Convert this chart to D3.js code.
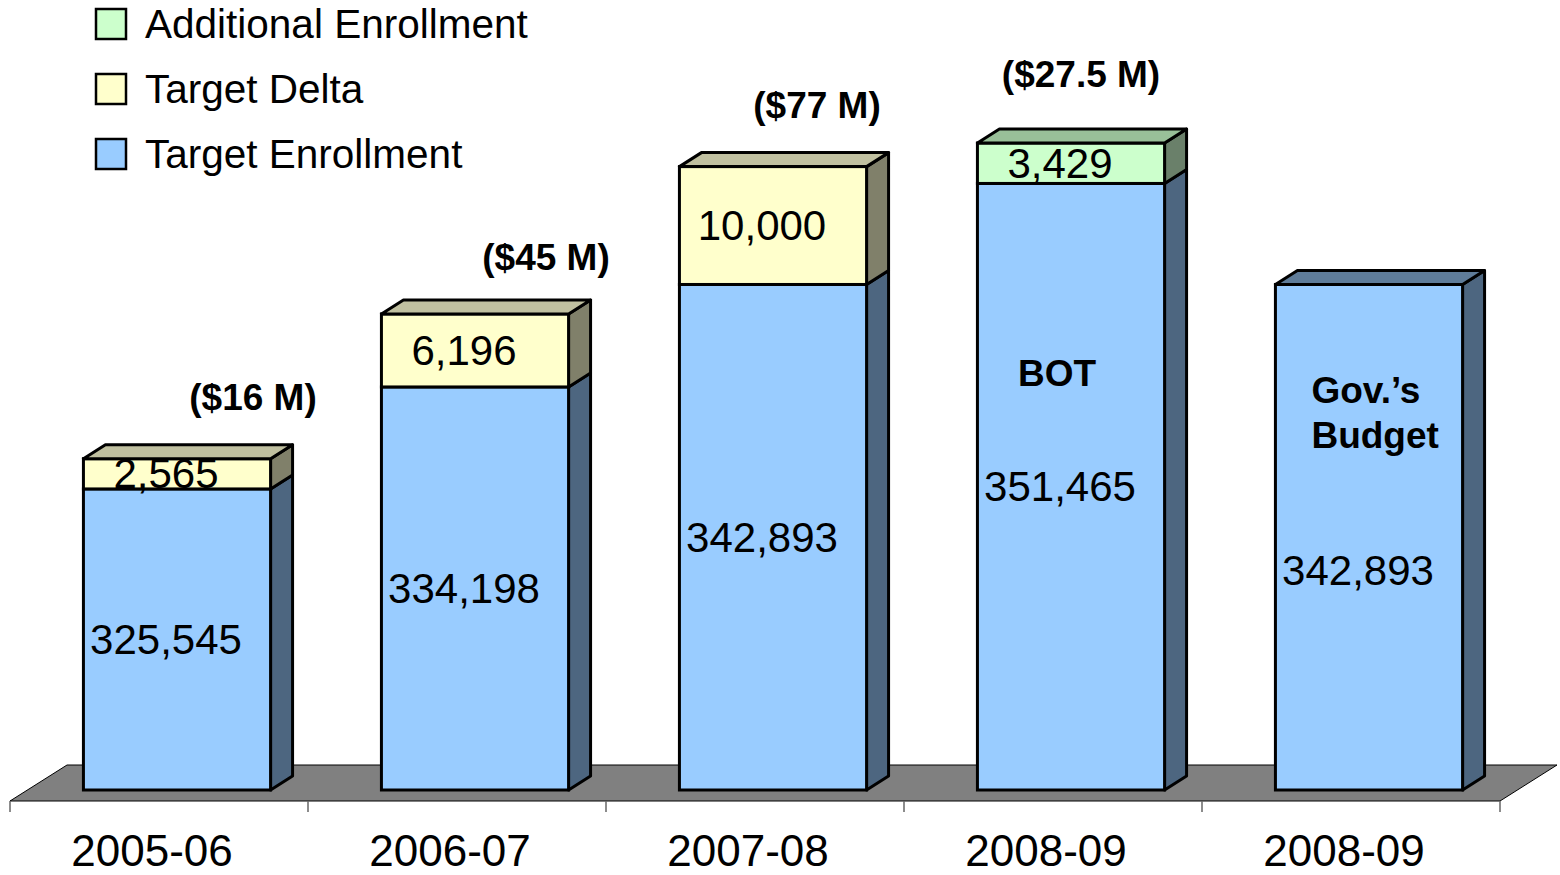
<!DOCTYPE html>
<html>
<head>
<meta charset="utf-8">
<script src="https://cdn.jsdelivr.net/npm/d3@7"></script>
<style>
  body { margin: 0; background: #fff; }
  text { font-family: "Liberation Sans", Arial, sans-serif; fill: #000; }
</style>
</head>
<body>
<div id="chart"></div>
<script>
// chart values
var categories = ["2005-06", "2006-07", "2007-08", "2008-09", "2008-09"];
var targetEnrollment = [325545, 334198, 342893, 351465, 342893];
var targetDelta = [2565, 6196, 10000, 0, 0];
var additionalEnrollment = [0, 0, 0, 3429, 0];
var fundingLabels = ["($16 M)", "($45 M)", "($77 M)", "($27.5 M)", ""];
var barNotes = ["", "", "", "BOT", "Gov.\u2019s Budget"];
var seriesNames = ["Additional Enrollment", "Target Delta", "Target Enrollment"];

var svgWidth = 1560, svgHeight = 875;

var colors = {
    "Target Enrollment": {front: "#99ccff", top: "#5f7c99", side: "#4d6680"},
    "Target Delta": {front: "#ffffcc", top: "#c0c0a0", side: "#80806a"},
    "Additional Enrollment": {front: "#ccffcc", top: "#99c099", side: "#6a806a"}
};

// slots along the floor, value scale in the plane of bar fronts
var slot = d3.scaleBand().domain(d3.range(categories.length)).range([10, 1500]).padding(0);
var y = d3.scaleLinear().domain([300000, 370000]).range([790, -35]);

var floorFront = 801, floorDepth = [57, -36];
var barOffset = [18, -11], barDepth = [22, -14];
var barWidth = slot.bandwidth() * 0.628;

var svg = d3.select("#chart").append("svg")
    .attr("width", svgWidth)
    .attr("height", svgHeight);

// floor
var fx0 = slot.range()[0], fx1 = slot.range()[1];
svg.append("polygon")
    .attr("points", [[fx0, floorFront], [fx1, floorFront],
        [fx1 + floorDepth[0], floorFront + floorDepth[1]],
        [fx0 + floorDepth[0], floorFront + floorDepth[1]]].join(" "))
    .attr("fill", "#808080")
    .attr("stroke", "#000")
    .attr("stroke-width", 1);

// ticks
var tickX = d3.range(categories.length + 1).map(function(i) {
    return i < categories.length ? slot(i) : fx1;
});
svg.selectAll(".tick").data(tickX).enter().append("line")
    .attr("class", "tick")
    .attr("x1", function(d) { return d; })
    .attr("x2", function(d) { return d; })
    .attr("y1", floorFront)
    .attr("y2", floorFront + 11)
    .attr("stroke", "#666")
    .attr("stroke-width", 1.5);

// category labels
svg.selectAll(".cat").data(categories).enter().append("text")
    .attr("class", "cat")
    .attr("x", function(d, i) { return slot(i) + slot.bandwidth() / 2 - 7; })
    .attr("y", 866)
    .attr("text-anchor", "middle")
    .style("font-size", "44px")
    .text(function(d) { return d; });

// stacked data
var rows = categories.map(function(c, i) {
    var segs = [];
    var base = 300000;
    [["Target Enrollment", targetEnrollment[i] - 300000],
     ["Target Delta", targetDelta[i]],
     ["Additional Enrollment", additionalEnrollment[i]]].forEach(function(s) {
        if (s[1] > 0) {
            var label = s[0] == "Target Enrollment" ? targetEnrollment[i] : s[1];
            segs.push({name: s[0], y0: base, y1: base + s[1], label: label});
            base += s[1];
        }
    });
    return {i: i, segs: segs, total: base};
});

var fmt = d3.format(",");

rows.forEach(function(r) {
    var x0 = slot(r.i) + (slot.bandwidth() - barWidth) / 2 + barOffset[0];
    var x1 = x0 + barWidth;
    var g = svg.append("g");

    r.segs.forEach(function(s, k) {
        var c = colors[s.name];
        var top = y(s.y1), bot = y(s.y0);
        // side face
        g.append("polygon")
            .attr("points", [[x1, bot], [x1 + barDepth[0], bot + barDepth[1]],
                [x1 + barDepth[0], top + barDepth[1]], [x1, top]].join(" "))
            .attr("fill", c.side).attr("stroke", "#000").attr("stroke-width", 3)
            .attr("stroke-linejoin", "round");
        // front face
        g.append("rect")
            .attr("x", x0).attr("y", top)
            .attr("width", barWidth).attr("height", bot - top)
            .attr("fill", c.front).attr("stroke", "#000").attr("stroke-width", 3);
        // top face only for the top segment
        if (k == r.segs.length - 1) {
            g.append("polygon")
                .attr("points", [[x0, top], [x1, top], [x1 + barDepth[0], top + barDepth[1]],
                    [x0 + barDepth[0], top + barDepth[1]]].join(" "))
                .attr("fill", c.top).attr("stroke", "#000").attr("stroke-width", 3)
                .attr("stroke-linejoin", "round");
        }
    });

    // value labels
    r.segs.forEach(function(s) {
        var cy = (y(s.y1) + y(s.y0)) / 2;
        if (r.i == 4 && s.name == "Target Enrollment") cy += 33;
        g.append("text")
            .attr("x", (x0 + x1) / 2 - 11)
            .attr("y", cy)
            .attr("text-anchor", "middle")
            .attr("dominant-baseline", "central")
            .style("font-size", "42px")
            .text(fmt(s.label));
    });
});

// funding annotations above bars
var fundDx = [76, 71, 44, 10];
svg.selectAll(".fund").data(fundingLabels.filter(function(d) { return d; })).enter()
    .append("text")
    .attr("class", "fund")
    .attr("x", function(d, i) {
        return slot(i) + slot.bandwidth() / 2 + barOffset[0] + fundDx[i];
    })
    .attr("y", function(d, i) { return y(rows[i].total) - (i == 3 ? 69 : i == 1 ? 56 : 61); })
    .attr("text-anchor", "middle")
    .attr("dominant-baseline", "central")
    .style("font-size", "37px")
    .style("font-weight", "bold")
    .text(function(d) { return d; });

// notes inside bars
svg.append("text")
    .attr("x", slot(3) + slot.bandwidth() / 2 + barOffset[0] - 14)
    .attr("y", y(targetEnrollment[3]) + 190)
    .attr("text-anchor", "middle")
    .attr("dominant-baseline", "central")
    .style("font-size", "37px")
    .style("font-weight", "bold")
    .text(barNotes[3]);

var gov = svg.append("text")
    .attr("x", slot(4) + (slot.bandwidth() - barWidth) / 2 + barOffset[0] + 36)
    .attr("y", y(targetEnrollment[4]) + 106)
    .attr("dominant-baseline", "central")
    .style("font-size", "37px")
    .style("font-weight", "bold");
barNotes[4].split(" ").forEach(function(w, k) {
    gov.append("tspan")
        .attr("x", gov.attr("x"))
        .attr("dy", k == 0 ? 0 : 45)
        .text(w);
});

// legend
var legend = svg.selectAll(".legend").data(seriesNames).enter().append("g")
    .attr("class", "legend")
    .attr("transform", function(d, i) { return "translate(96," + (24 + i * 65) + ")"; });

legend.append("rect")
    .attr("x", 0).attr("y", -15)
    .attr("width", 30).attr("height", 30)
    .attr("fill", function(d) { return colors[d].front; })
    .attr("stroke", "#000")
    .attr("stroke-width", 2.5);

legend.append("text")
    .attr("x", 49)
    .attr("y", 0)
    .attr("dominant-baseline", "central")
    .style("font-size", "40.5px")
    .text(function(d) { return d; });
</script>
</body>
</html>
